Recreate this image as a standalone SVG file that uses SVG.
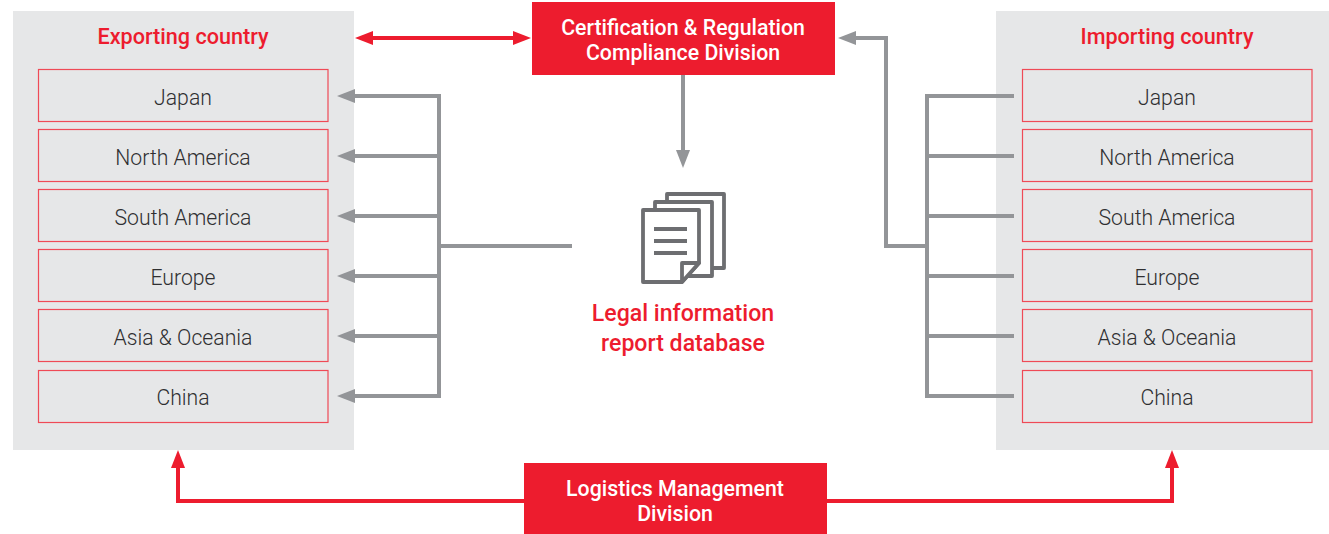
<svg xmlns="http://www.w3.org/2000/svg" width="1329" height="534" viewBox="0 0 1329 534">
<style>
.panel{fill:#e6e7e8}
.item{fill:#e6e7e8;stroke:#ef4a56;stroke-width:1.2}
.lbl{font-family:Roboto,"Liberation Sans",Arial,sans-serif;font-size:21.2px;font-weight:300;fill:#2f2f31;text-anchor:middle}
.head{font-family:Roboto,"Liberation Sans",Arial,sans-serif;font-size:21.6px;font-weight:500;fill:#ed1c2e;text-anchor:middle}
.dbt{font-family:Roboto,"Liberation Sans",Arial,sans-serif;font-size:23.100px;font-weight:500;fill:#ed1c2e;text-anchor:middle}
.div{fill:#ed1c2e}
.divt{font-family:Roboto,"Liberation Sans",Arial,sans-serif;font-size:21.300px;font-weight:500;fill:#fff;text-anchor:middle}
.g{fill:none;stroke:#939598;stroke-width:4}
.ga{fill:none;stroke:#939598;stroke-width:4;marker-end:url(#ah)}
.r{fill:none;stroke:#ed1c2e;stroke-width:4;marker-end:url(#ar)}
.doc{fill:#fff;stroke:#6d6e71;stroke-width:3.8;stroke-linejoin:round}
.docl{fill:none;stroke:#6d6e71;stroke-width:3.8}
</style>
<defs>
<marker id="ah" markerUnits="userSpaceOnUse" markerWidth="18" markerHeight="14" refX="0" refY="7" orient="auto"><path d="M0,0L18,7L0,14Z" fill="#939598"/></marker>
<marker id="ar" markerUnits="userSpaceOnUse" markerWidth="18" markerHeight="14" refX="0" refY="7" orient="auto"><path d="M0,0L18,7L0,14Z" fill="#ed1c2e"/></marker>
</defs>

<g id="exporting-country">
<rect class="panel" x="13" y="11" width="341" height="439"/>
<text class="head" x="183" y="44">Exporting country</text>
</g>
<g id="importing-country">
<rect class="panel" x="996" y="11" width="333" height="439"/>
<text class="head" x="1167" y="44">Importing country</text>
</g>

<g id="exp-japan"><rect class="item" x="38.500" y="69.500" width="289.500" height="52"/><text class="lbl" x="183" y="105">Japan</text></g>
<g id="exp-north-america"><rect class="item" x="38.500" y="129.500" width="289.500" height="52"/><text class="lbl" x="183" y="165">North America</text></g>
<g id="exp-south-america"><rect class="item" x="38.500" y="189.500" width="289.500" height="52"/><text class="lbl" x="183" y="225">South America</text></g>
<g id="exp-europe"><rect class="item" x="38.500" y="249.500" width="289.500" height="52"/><text class="lbl" x="183" y="285">Europe</text></g>
<g id="exp-asia-oceania"><rect class="item" x="38.500" y="309.500" width="289.500" height="52"/><text class="lbl" x="183" y="345">Asia &amp; Oceania</text></g>
<g id="exp-china"><rect class="item" x="38.500" y="370.500" width="289.500" height="52"/><text class="lbl" x="183" y="405">China</text></g>

<g id="imp-japan"><rect class="item" x="1022.500" y="69.500" width="289.500" height="52"/><text class="lbl" x="1167" y="105">Japan</text></g>
<g id="imp-north-america"><rect class="item" x="1022.500" y="129.500" width="289.500" height="52"/><text class="lbl" x="1167" y="165">North America</text></g>
<g id="imp-south-america"><rect class="item" x="1022.500" y="189.500" width="289.500" height="52"/><text class="lbl" x="1167" y="225">South America</text></g>
<g id="imp-europe"><rect class="item" x="1022.500" y="249.500" width="289.500" height="52"/><text class="lbl" x="1167" y="285">Europe</text></g>
<g id="imp-asia-oceania"><rect class="item" x="1022.500" y="309.500" width="289.500" height="52"/><text class="lbl" x="1167" y="345">Asia &amp; Oceania</text></g>
<g id="imp-china"><rect class="item" x="1022.500" y="370.500" width="289.500" height="52"/><text class="lbl" x="1167" y="405">China</text></g>

<g id="certification-division">
<rect class="div" x="532" y="2" width="303" height="73"/>
<text class="divt" x="683" y="35">Certification &amp; Regulation</text>
<text class="divt" x="683" y="60">Compliance Division</text>
</g>
<g id="logistics-division">
<rect class="div" x="524" y="463" width="303" height="71"/>
<text class="divt" x="675" y="496">Logistics Management</text>
<text class="divt" x="675" y="521">Division</text>
</g>

<g id="legal-database">
<rect class="doc" x="667" y="194" width="57" height="74"/>
<rect class="doc" x="655" y="202" width="57" height="74"/>
<path class="doc" d="M643,210H699V263L682,282H643Z"/>
<path class="doc" d="M682,282V263H699Z"/>
<path class="docl" d="M654,229H687M654,241H687M654,253H687"/>
<text class="dbt" x="683" y="321">Legal information</text>
<text class="dbt" x="683" y="351">report database</text>
</g>

<g id="connectors">
<path class="r" d="M373,38H513"/>
<path d="M355,38L373,31V45Z" fill="#ed1c2e"/>
<path class="r" d="M524,501H178V468"/>
<path class="r" d="M827,501H1172V468"/>
<path class="ga" d="M683,75V150"/>
<path class="g" d="M572,246H439M439,94V398"/>
<path class="ga" d="M439,96H355"/>
<path class="ga" d="M439,156H355"/>
<path class="ga" d="M439,216H355"/>
<path class="ga" d="M439,276H355"/>
<path class="ga" d="M439,336H355"/>
<path class="ga" d="M439,396H355"/>
<path class="g" d="M1014,96H927V396H1014M927,156H1014M927,216H1014M927,276H1014M927,336H1014"/>
<path class="ga" d="M927,246H886V38H856"/>
</g>
</svg>
